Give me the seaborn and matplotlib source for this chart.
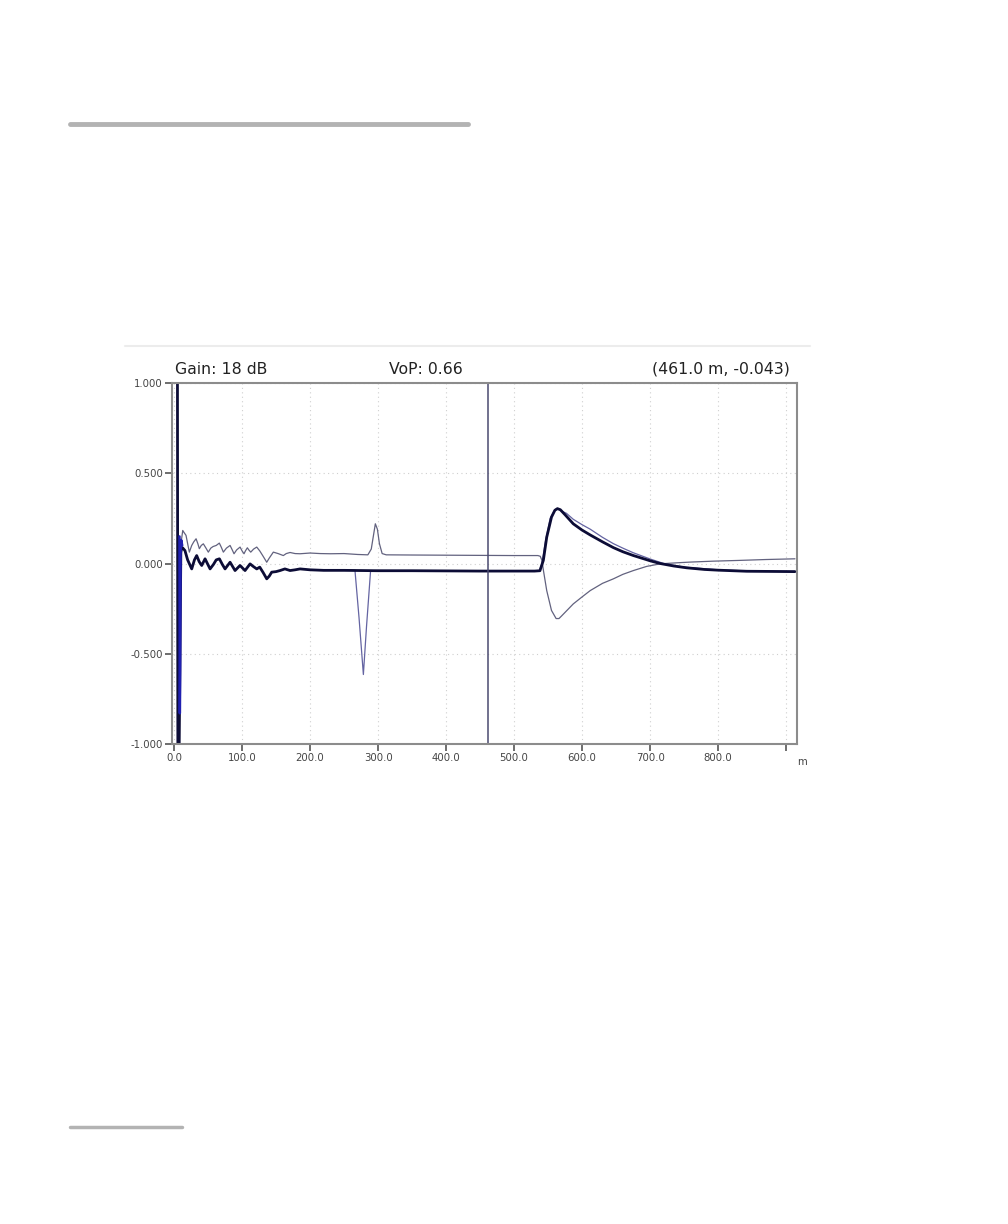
import matplotlib
matplotlib.use("Agg")
import matplotlib.pyplot as plt
import seaborn as sns
import pandas as pd
from matplotlib.lines import Line2D

# ---------------- data ----------------
thick_x = [5.0, 5.6, 7.5, 10.0, 11.3, 13, 16, 20, 26, 30, 33.3, 37, 40.7, 45.6, 49, 53, 58, 62,
           66.7, 71, 75, 82.4, 89.7, 97, 104.4, 111.8, 116, 121.6, 126, 131, 136.3, 140, 143.6,
           150, 155.9, 163, 170.6, 178, 185.3, 200, 220, 250, 300, 350, 400, 450, 500, 530, 538,
           543, 548, 555, 560, 563.7, 568, 575, 587, 600, 612, 630, 646, 660, 675.5, 700, 714.7,
           735, 754, 780, 800, 842, 880, 913]
thick_y = [1.05, -1.05, -1.05, 0.06, 0.09, 0.085, 0.072, 0.02, -0.03, 0.02, 0.044, 0.01, -0.011,
           0.026, 0.0, -0.03, -0.005, 0.02, 0.026, -0.005, -0.03, 0.007, -0.039, -0.011, -0.039,
           -0.002, -0.015, -0.03, -0.02, -0.05, -0.085, -0.07, -0.048, -0.045, -0.039, -0.03,
           -0.039, -0.035, -0.03, -0.035, -0.038, -0.038, -0.04, -0.04, -0.041, -0.042, -0.042,
           -0.042, -0.04, 0.017, 0.146, 0.257, 0.295, 0.304, 0.298, 0.27, 0.22, 0.185, 0.158,
           0.12, 0.088, 0.065, 0.044, 0.015, 0.0, -0.014, -0.024, -0.033, -0.037, -0.043, -0.044,
           -0.045]

upper_x = [10.5, 12.8, 15, 17.6, 20, 22.5, 26, 29, 32.4, 35, 37.2, 40, 43.1, 47, 50.4, 54, 57.4,
           62, 66.6, 69.5, 72.5, 77, 82.4, 85, 88.2, 92, 97.1, 100, 102.9, 105, 107.8, 110, 112.8,
           117, 121.6, 126, 131, 136.3, 140, 146, 153, 160.7, 165, 170.6, 178, 185.3, 200, 215,
           230, 250, 270, 285, 290, 293, 296, 299, 302, 306, 312, 350, 400, 450, 500, 535, 538.5,
           541, 543, 548, 555, 561.8, 566, 570, 587, 600, 612, 630, 646, 660, 675.5, 695, 714.7,
           740, 760, 793, 830, 870, 913]
upper_y = [0.12, 0.183, 0.17, 0.156, 0.11, 0.063, 0.1, 0.12, 0.137, 0.11, 0.082, 0.1, 0.109,
           0.085, 0.063, 0.085, 0.094, 0.1, 0.113, 0.09, 0.063, 0.085, 0.1, 0.08, 0.054, 0.075,
           0.091, 0.07, 0.054, 0.07, 0.087, 0.075, 0.063, 0.08, 0.091, 0.07, 0.04, 0.007, 0.03,
           0.063, 0.055, 0.044, 0.055, 0.061, 0.055, 0.054, 0.058, 0.055, 0.054, 0.055, 0.05,
           0.048, 0.08, 0.15, 0.22, 0.19, 0.11, 0.055, 0.048, 0.047, 0.046, 0.045, 0.044, 0.044,
           0.04, 0.017, -0.035, -0.15, -0.26, -0.305, -0.305, -0.29, -0.224, -0.185, -0.15,
           -0.11, -0.085, -0.06, -0.039, -0.016, -0.002, 0.004, 0.008, 0.013, 0.017, 0.022, 0.026]

dip_x = [240, 266, 272, 278.4, 283, 289, 300, 350, 450, 537, 541, 546, 553, 560, 564, 570, 577,
         587, 600, 612, 630, 646, 660, 675, 700, 720, 750, 800, 850, 913]
dip_y = [-0.037, -0.037, -0.3, -0.615, -0.35, -0.04, -0.039, -0.04, -0.041, -0.041, 0.0, 0.12,
         0.25, 0.298, 0.305, 0.29, 0.278, 0.245, 0.215, 0.19, 0.145, 0.11, 0.085, 0.06, 0.025,
         0.0, -0.02, -0.035, -0.042, -0.044]

spike_x = [8.0, 8.5, 9.0, 9.6, 10.5, 12.0]
spike_y = [0.15, -0.83, -0.6, 0.05, 0.13, 0.1]

cursor_x = 461.0
x_ticks = [0, 100, 200, 300, 400, 500, 600, 700, 800]
x_tick_labels = ["0.0", "100.0", "200.0", "300.0", "400.0", "500.0", "600.0", "700.0", "800.0"]
y_ticks = [1.0, 0.5, 0.0, -0.5, -1.0]
y_tick_labels = ["1.000", "0.500", "0.000", "-0.500", "-1.000"]
header_left = "Gain: 18 dB"
header_mid = "VoP: 0.66"
header_right = "(461.0 m, -0.043)"
unit_label = "m"

# ---------------- figure ----------------
sns.set_theme(style="white")
plt.rcParams['font.family'] = ['DejaVu Sans']

W, H = 1008, 1224
fig = plt.figure(figsize=(W / 100, H / 100), dpi=100)
fig.patch.set_facecolor("white")

L, R, T, B = 172, 797, 383, 744
ax = fig.add_axes([L / W, 1 - B / H, (R - L) / W, (B - T) / H])
ax.set_facecolor("white")

df_thin_a = pd.DataFrame({"x": upper_x, "y": upper_y})
df_dip = pd.DataFrame({"x": dip_x, "y": dip_y})
df_thick = pd.DataFrame({"x": thick_x, "y": thick_y})
df_spike = pd.DataFrame({"x": spike_x, "y": spike_y})

sns.lineplot(data=df_thin_a, x="x", y="y", sort=False, estimator=None, ax=ax,
             color="#62627f", linewidth=0.9)
sns.lineplot(data=df_dip, x="x", y="y", sort=False, estimator=None, ax=ax,
             color="#6464a2", linewidth=0.9)
sns.lineplot(data=df_thick, x="x", y="y", sort=False, estimator=None, ax=ax,
             color="#0c0c36", linewidth=2.0)
sns.lineplot(data=df_spike, x="x", y="y", sort=False, estimator=None, ax=ax,
             color="#2020b0", linewidth=1.8)

ax.axvline(cursor_x, color="#4a4a70", linewidth=1.1)

ax.set_xlim(-3, 916)
ax.set_ylim(-1.0, 1.0)
ax.set_xticks(x_ticks + [900])
ax.set_xticklabels(x_tick_labels + [""])
ax.set_yticks(y_ticks)
ax.set_yticklabels(y_tick_labels)
ax.set_xlabel("")
ax.set_ylabel("")
ax.tick_params(axis="both", which="both", direction="out", length=5, width=1.2,
               color="#555555", labelsize=7.3, labelcolor="#444444", pad=1.5,
               bottom=True, left=True)
ax.grid(True, linestyle=(0, (1, 3)), color="#cfcfcf", linewidth=0.8)
for s in ax.spines.values():
    s.set_color("#8c8c8c")
    s.set_linewidth(1.5)

ax.text(1.0, -0.035, unit_label, transform=ax.transAxes, ha="left", va="top",
        fontsize=7.3, color="#444444")

# header texts
fig.text(175 / W, 1 - 369 / H, header_left, ha="left", va="center", fontsize=11.3, color="#222222")
fig.text(426 / W, 1 - 369 / H, header_mid, ha="center", va="center", fontsize=11.3, color="#222222")
fig.text(790 / W, 1 - 369 / H, header_right, ha="right", va="center", fontsize=11.3, color="#222222")

# decorative page lines
fig.add_artist(Line2D([125 / W, 810 / W], [1 - 346 / H, 1 - 346 / H], color="#ececec", linewidth=1.5))
fig.add_artist(Line2D([70 / W, 468 / W], [1 - 124 / H, 1 - 124 / H], color="#b3b3b3", linewidth=3.5))
fig.add_artist(Line2D([70 / W, 182 / W], [1 - 1127 / H, 1 - 1127 / H], color="#b3b3b3", linewidth=2.5))

fig.savefig("out.png", dpi=100, facecolor="white")
